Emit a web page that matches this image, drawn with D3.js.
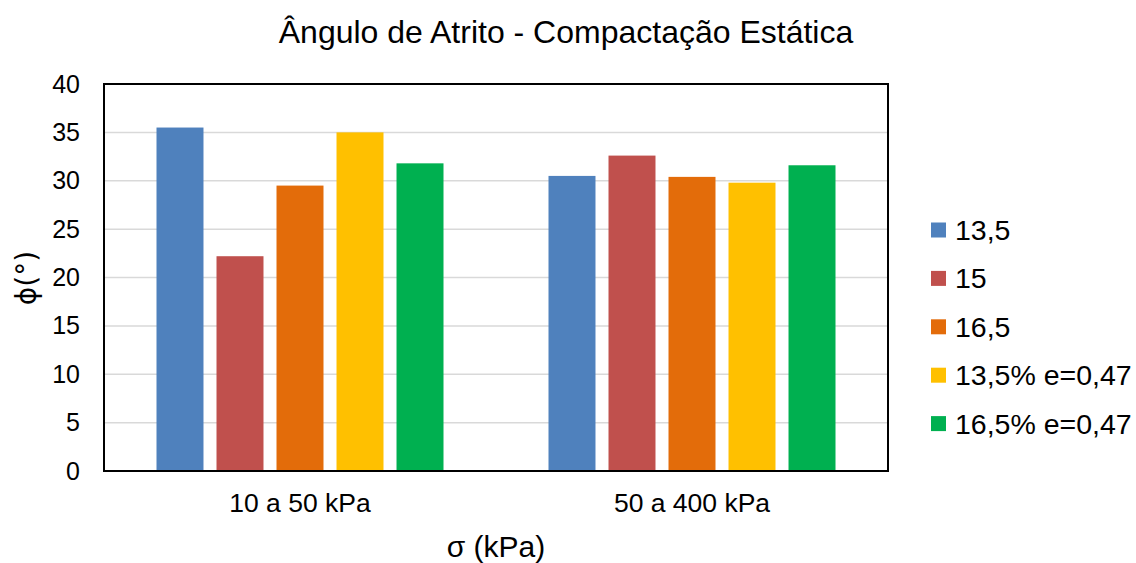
<!DOCTYPE html>
<html>
<head>
<meta charset="utf-8">
<script src="https://cdn.jsdelivr.net/npm/d3@7"></script>
<style>
  html, body { margin: 0; padding: 0; background: #fff; }
  text { font-family: "Liberation Sans", Arial, sans-serif; fill: #000; }
</style>
</head>
<body>
<svg id="chart" width="1136" height="563"></svg>
<script>
const categories = ["10 a 50 kPa", "50 a 400 kPa"];
const seriesNames = ["13,5", "15", "16,5", "13,5% e=0,47", "16,5% e=0,47"];
const seriesColors = ["#4f81bd", "#c0504d", "#e36c0a", "#ffc000", "#00b050"];
const s135 = [35.5, 30.5];
const s15 = [22.2, 32.6];
const s165 = [29.5, 30.4];
const s135e = [35.0, 29.8];
const s165e = [31.8, 31.6];
const seriesValues = [s135, s15, s165, s135e, s165e];
const yTicks = [0, 5, 10, 15, 20, 25, 30, 35, 40];
const titleText = "Ângulo de Atrito - Compactação Estática";
const xTitle = "σ (kPa)";
const yTitle = "ϕ(°)";

const svg = d3.select("#chart");
const m = { left: 104, right: 888, top: 84, bottom: 471 };

const x0 = d3.scaleBand().domain(categories).range([m.left, m.right]).paddingInner(0).paddingOuter(0);
const groupPad = (x0.bandwidth() - 287) / 2;
const x1 = d3.scaleBand().domain(seriesNames).range([groupPad, x0.bandwidth() - groupPad]).paddingInner(0.217).paddingOuter(0);
const y = d3.scaleLinear().domain([0, 40]).range([m.bottom, m.top]);

// gridlines
svg.append("g").selectAll("line").data(yTicks.filter(t => t > 0 && t < 40)).join("line")
  .attr("x1", m.left).attr("x2", m.right)
  .attr("y1", d => y(d)).attr("y2", d => y(d))
  .attr("stroke", "#d9d9d9").attr("stroke-width", 1.5);

// bars
const groups = svg.append("g").selectAll("g").data(categories).join("g")
  .attr("transform", d => `translate(${x0(d)},0)`);
groups.selectAll("rect").data((c, ci) => seriesNames.map((s, si) => ({ s, si, v: seriesValues[si][ci] }))).join("rect")
  .attr("x", d => x1(d.s)).attr("width", x1.bandwidth())
  .attr("y", d => y(d.v)).attr("height", d => y(0) - y(d.v))
  .attr("fill", d => seriesColors[d.si]);

// frame
svg.append("rect").attr("x", m.left).attr("y", m.top).attr("width", m.right - m.left).attr("height", m.bottom - m.top)
  .attr("fill", "none").attr("stroke", "#000").attr("stroke-width", 2);

// y axis
const yAxis = d3.axisLeft(y).tickValues(yTicks).tickSize(0).tickPadding(24);
const ya = svg.append("g").attr("transform", `translate(${m.left},0)`).call(yAxis);
ya.select(".domain").remove();
ya.selectAll("text").style("font-size", "25px").style("font-family", "Liberation Sans, Arial, sans-serif").attr("fill", "#000");

// x axis
const xAxis = d3.axisBottom(x0).tickSize(0).tickPadding(22);
const xa = svg.append("g").attr("transform", `translate(0,${m.bottom})`).call(xAxis);
xa.select(".domain").remove();
xa.selectAll("text").style("font-size", "26.5px").style("font-family", "Liberation Sans, Arial, sans-serif").attr("fill", "#000");

// titles
svg.append("text").attr("x", 566).attr("y", 43).attr("text-anchor", "middle").style("font-size", "32px").text(titleText);
svg.append("text").attr("x", 496).attr("y", 557).attr("text-anchor", "middle").style("font-size", "30px").text(xTitle);
svg.append("text").attr("transform", "translate(36,278) rotate(-90)").attr("text-anchor", "middle")
  .style("font-size", "28px").style("font-family", "DejaVu Sans, sans-serif").text(yTitle);

// legend
const lg = svg.append("g").selectAll("g").data(seriesNames).join("g")
  .attr("transform", (d, i) => `translate(931,${230 + i * 48.4})`);
lg.append("rect").attr("x", 0).attr("y", -7.5).attr("width", 15).attr("height", 15).attr("fill", (d, i) => seriesColors[i]);
lg.append("text").attr("x", 24).attr("y", 10).style("font-size", "28.5px").text(d => d);
</script>
</body>
</html>
